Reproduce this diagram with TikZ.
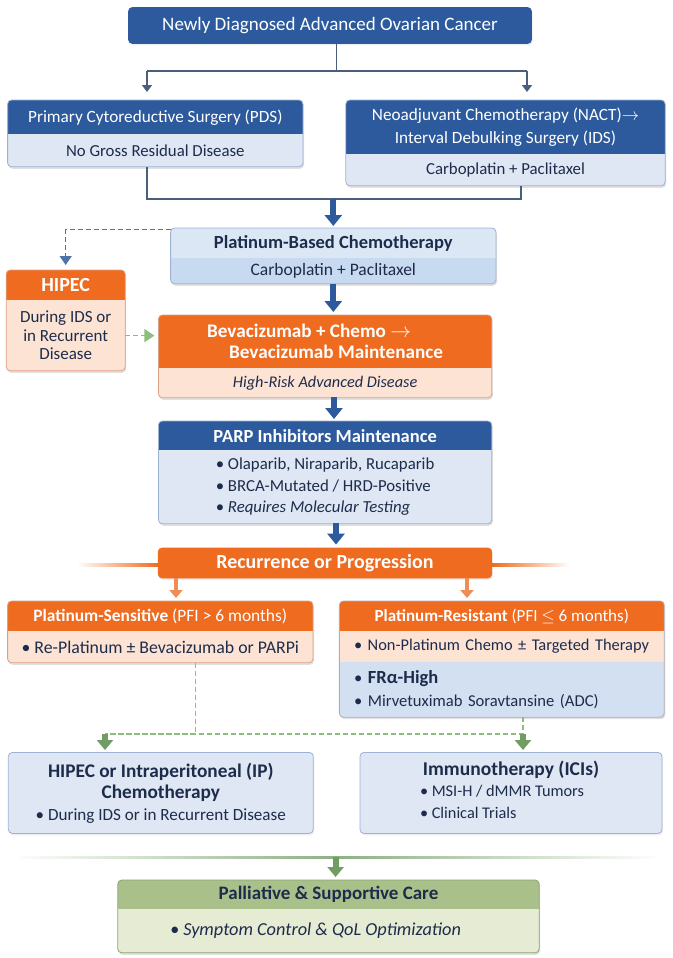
\documentclass[tikz,border=0pt]{standalone}
\usepackage{fontspec}
\setmainfont{Carlito}
\usetikzlibrary{arrows.meta,calc,backgrounds,shadows}

\definecolor{dblue}{HTML}{2C5A9C}
\definecolor{lblue}{HTML}{DEE7F3}
\definecolor{bblue}{HTML}{9DB3D3}
\definecolor{pblue}{HTML}{DCE7F6}
\definecolor{pblue2}{HTML}{C7DAF0}
\definecolor{frblue}{HTML}{D3E0F1}
\definecolor{orng}{HTML}{EE6B1F}
\definecolor{peach}{HTML}{FCE3D4}
\definecolor{pbord}{HTML}{DDA283}
\definecolor{lorng}{HTML}{F08C55}
\definecolor{grnh}{HTML}{A9C08B}
\definecolor{grnb}{HTML}{E6ECD4}
\definecolor{gbord}{HTML}{8AA470}
\definecolor{garr}{HTML}{6F9D63}
\definecolor{gdsh}{HTML}{8CBF7E}
\definecolor{navy}{HTML}{1E2C4C}
\definecolor{conn}{HTML}{4B5E7C}

\newcommand\fA{\fontsize{19}{22}\selectfont}
\newcommand\fB{\fontsize{17.2}{23}\selectfont}
\newcommand\fC{\fontsize{16.8}{21.5}\selectfont}

% header + body box: fills and outline behind the two text nodes
\newcommand\twobox[5]{%
  \begin{scope}[on background layer]
    \fill[black, opacity=0.12, rounded corners=4pt] ([shift={(1pt,-2pt)}]#1.north west) rectangle ([shift={(1pt,-2pt)}]#2.south east);
    \begin{scope}
      \clip[rounded corners=4pt] (#1.north west) rectangle (#2.south east);
      \fill[#4] (#1.south west) rectangle (#2.south east);
      \fill[#3] (#1.north west) rectangle (#1.south east);
    \end{scope}
    \draw[#5, line width=0.8pt, rounded corners=4pt] (#1.north west) rectangle (#2.south east);
  \end{scope}}

\tikzset{
  box/.style={inner sep=2pt, align=center, text=navy, font=\fC},
  whitehd/.style={box, text=white, font=\fB},
  single/.style={box, rounded corners=4pt, line width=0.8pt, drop shadow={opacity=0.12, shadow xshift=1pt, shadow yshift=-2pt}},
  conline/.style={conn, line width=1.6pt},
  conarr/.style={conline, -{Triangle[width=10pt,length=7pt]}},
  fatarr/.style={dblue, line width=6pt, -{Triangle[width=17pt,length=11pt]}},
  ofat/.style={lorng, line width=4.5pt, -{Triangle[width=13pt,length=8pt]}},
  gfat/.style={garr, line width=6pt, -{Triangle[width=16pt,length=10pt]}},
  bdash/.style={dblue!85, line width=1.4pt, dash pattern=on 5pt off 3pt, -{Triangle[width=12pt,length=9pt]}},
  gdash/.style={gdsh, line width=1.4pt, dash pattern=on 5pt off 3pt}
}

\begin{document}
\begin{tikzpicture}[x=1pt,y=-1pt]
\useasboundingbox (0,0) rectangle (672,958);
\begin{scope}[on background layer]
  \fill[white] (0,0) rectangle (672,958);
\end{scope}

% first line treatment
\node[single, fill=dblue, draw=dblue, text=white, minimum width=403pt, minimum height=36pt, font=\fA] (title) at (330,25.5) {Newly Diagnosed Advanced Ovarian Cancer};

\node[whitehd, anchor=north, minimum width=295pt, minimum height=34pt] (pds) at (155.3,100) {Primary Cytoreductive Surgery (PDS)};
\node[box, anchor=north, minimum width=295pt, minimum height=32pt] (pdsb) at (pds.south) {No Gross Residual Disease};
\twobox{pds}{pdsb}{dblue}{lblue}{bblue}

\node[whitehd, anchor=north, minimum width=319pt, minimum height=54pt] (nact) at (505.5,100) {Neoadjuvant Chemotherapy (NACT)$\rightarrow$\\Interval Debulking Surgery (IDS)};
\node[box, anchor=north, minimum width=319pt, minimum height=31pt] (nactb) at (nact.south) {Carboplatin + Paclitaxel};
\twobox{nact}{nactb}{dblue}{lblue}{bblue}

\node[box, anchor=north, minimum width=325pt, minimum height=30pt, font=\fontsize{18.5}{22}\selectfont\bfseries] (plat) at (333.3,228) {Platinum-Based Chemotherapy};
\node[box, anchor=north, minimum width=325pt, minimum height=25pt, font=\fontsize{17.5}{21}\selectfont] (platb) at (plat.south) {Carboplatin + Paclitaxel};
\twobox{plat}{platb}{pblue}{pblue2}{bblue}

\node[box, text=white, anchor=north, minimum width=118.6pt, minimum height=30pt, font=\fontsize{20}{22}\selectfont\bfseries] (hipec) at (65.7,270) {HIPEC};
\node[box, anchor=north, minimum width=118.6pt, minimum height=70pt, font=\fontsize{17}{18.5}\selectfont] (hipecb) at (hipec.south) {During IDS or\\in Recurrent\\Disease};
\twobox{hipec}{hipecb}{orng}{peach}{pbord}

\node[box, text=white, anchor=north, minimum width=333pt, minimum height=53pt, align=left, font=\fontsize{19.2}{21}\selectfont\bfseries] (bev) at (325.1,315) {Bevacizumab + Chemo $\rightarrow$\\\hspace*{22pt}Bevacizumab Maintenance};
\node[box, anchor=north, minimum width=333pt, minimum height=29pt, font=\fontsize{16.3}{20}\selectfont\itshape] (bevb) at (bev.south) {High-Risk Advanced Disease};
\twobox{bev}{bevb}{orng}{peach}{pbord}

\node[box, text=white, anchor=north, minimum width=333pt, minimum height=29pt, font=\fontsize{18.5}{22}\selectfont\bfseries] (parp) at (325.1,421) {PARP Inhibitors Maintenance};
\node[box, anchor=north, minimum width=333pt, minimum height=73pt, align=left] (parpb) at (parp.south) {• Olaparib, Niraparib, Rucaparib\\• BRCA-Mutated / HRD-Positive\\• \textit{Requires Molecular Testing}};
\twobox{parp}{parpb}{dblue}{lblue}{bblue}

% recurrence
\shade[left color=white, right color=orng] (77,563) rectangle (158,566);
\shade[left color=orng, right color=white] (491.6,563) rectangle (570,566);
\node[single, fill=orng, draw=orng, text=white, minimum width=333.6pt, minimum height=30pt, font=\fontsize{20}{22}\selectfont\bfseries] (rec) at (325,563) {Recurrence or Progression};

\node[whitehd, anchor=north, minimum width=305pt, minimum height=30pt, font=\fontsize{17.4}{21}\selectfont] (psh) at (160.3,601) {\textbf{Platinum-Sensitive} (PFI > 6 months)};
\node[box, anchor=north, minimum width=305pt, minimum height=31pt, font=\fontsize{17.8}{21}\selectfont] (psb) at (psh.south) {• Re-Platinum ± Bevacizumab or PARPi};
\twobox{psh}{psb}{orng}{peach}{pbord}

\node[whitehd, anchor=north, minimum width=324.5pt, minimum height=30pt, font=\fontsize{17}{21}\selectfont] (prh) at (501.8,601) {\textbf{Platinum-Resistant} (PFI $\leq$ 6 months)};
\node[box, anchor=north, minimum width=324.5pt, minimum height=30pt, text width=295.5pt, inner xsep=14.5pt, align=left, font=\fontsize{16.4}{21}\selectfont] (prb) at (prh.south) {• Non-Platinum Chemo ± Targeted Therapy};
\node[box, anchor=north, minimum width=324.5pt, minimum height=55pt, text width=295.5pt, inner xsep=14.5pt, align=left, font=\fontsize{16.6}{22.5}\selectfont] (prc) at (prb.south) {• {\fontsize{18.5}{20}\selectfont\bfseries FRα-High}\\• Mirvetuximab Soravtansine (ADC)};
\begin{scope}[on background layer]
  \fill[black, opacity=0.12, rounded corners=4pt] ([shift={(1pt,-2pt)}]prh.north west) rectangle ([shift={(1pt,-2pt)}]prc.south east);
  \begin{scope}
    \clip[rounded corners=4pt] (prh.north west) rectangle (prc.south east);
    \fill[frblue] (prc.north west) rectangle (prc.south east);
    \fill[peach] (prb.north west) rectangle (prb.south east);
    \fill[orng] (prh.north west) rectangle (prh.south east);
  \end{scope}
  \draw[bblue!60!pbord, line width=0.8pt, rounded corners=4pt] (prh.north west) rectangle (prc.south east);
\end{scope}

\node[single, fill=lblue, draw=bblue, anchor=north, minimum width=305pt, minimum height=81pt, font=\fontsize{17.1}{21.5}\selectfont] (ip) at (160.8,752) {{\fontsize{19.3}{21.5}\selectfont\bfseries HIPEC or Intraperitoneal (IP)}\\{\fontsize{19.3}{21.5}\selectfont\bfseries Chemotherapy}\\• During IDS or in Recurrent Disease};
\node[single, fill=lblue, draw=bblue, anchor=north, minimum width=302pt, minimum height=81pt, font=\fontsize{16.3}{21.5}\selectfont] (imm) at (511,752) {{\fontsize{19.5}{21.5}\selectfont\bfseries Immunotherapy (ICIs)}\\\begin{tabular}[t]{@{}l@{}}• MSI-H / dMMR Tumors\\• Clinical Trials\end{tabular}\hspace*{18pt}};

\shade[left color=white, right color=white, middle color=garr!80] (10,856) rectangle (662,858.5);
\node[box, anchor=north, minimum width=421pt, minimum height=29pt, font=\fontsize{19}{22}\selectfont\bfseries] (pal) at (328.5,880) {Palliative \& Supportive Care};
\node[box, anchor=north, minimum width=421pt, minimum height=43pt, font=\fontsize{18.3}{21}\selectfont\itshape] (palb) at (pal.south) {• Symptom Control \& QoL Optimization\hspace*{26pt}};
\twobox{pal}{palb}{grnh}{grnb}{gbord}

% connectors
\coordinate (split) at (336.5,71);
\coordinate (aL) at (147,71);
\coordinate (aR) at (527,71);
\draw[conline] (split |- title.south) -- (split);
\draw[conline] (aL) -- (aR);
\draw[conarr, shorten >=8pt] (aL) -- (aL |- pds.north);
\draw[conarr, shorten >=8pt] (aR) -- (aR |- nact.north);

\coordinate (jL) at (147,199);
\coordinate (jR) at (521,199);
\draw[conline] (jL |- pdsb.south) -- (jL) -- (jR) -- (jR |- nactb.south);
\draw[fatarr, shorten >=2pt] (plat.north |- jL) -- (plat.north);

\draw[bdash, shorten >=5pt] ([yshift=-1.5pt]plat.north west) -| (hipec.north);
\draw[gdash, -{Triangle[width=13pt,length=10pt]}, shorten >=4pt] (hipecb.east) -- (hipecb.east -| bev.west);

\draw[fatarr, shorten >=3pt] (platb.south) -- (platb.south |- bev.north);
\coordinate (b1) at (334,397);
\draw[fatarr, shorten >=2pt] (b1) -- (b1 |- parp.north);
\coordinate (b2) at (336,523);
\draw[fatarr, shorten >=3pt] (b2) -- (b2 |- rec.north);

\coordinate (r1) at (176,578);
\coordinate (r2) at (467,578);
\draw[ofat, shorten >=3pt] (r1) -- (r1 |- psh.north);
\draw[ofat, shorten >=3pt] (r2) -- (r2 |- prh.north);

\coordinate (gl) at (105,734);
\coordinate (gr) at (523,734);
\draw[gdash] ([xshift=35pt]psb.south) |- (gl);
\draw[gdash] (gr |- prc.south) -- (gr) -- (gl);
\draw[gfat, shorten >=2pt] (gl) -- (gl |- ip.north);
\draw[gfat, shorten >=2pt] (gr) -- (gr |- imm.north);

\coordinate (gm) at (335.6,857);
\draw[gfat, shorten >=3pt] (gm) -- (gm |- pal.north);
\end{tikzpicture}
\end{document}
